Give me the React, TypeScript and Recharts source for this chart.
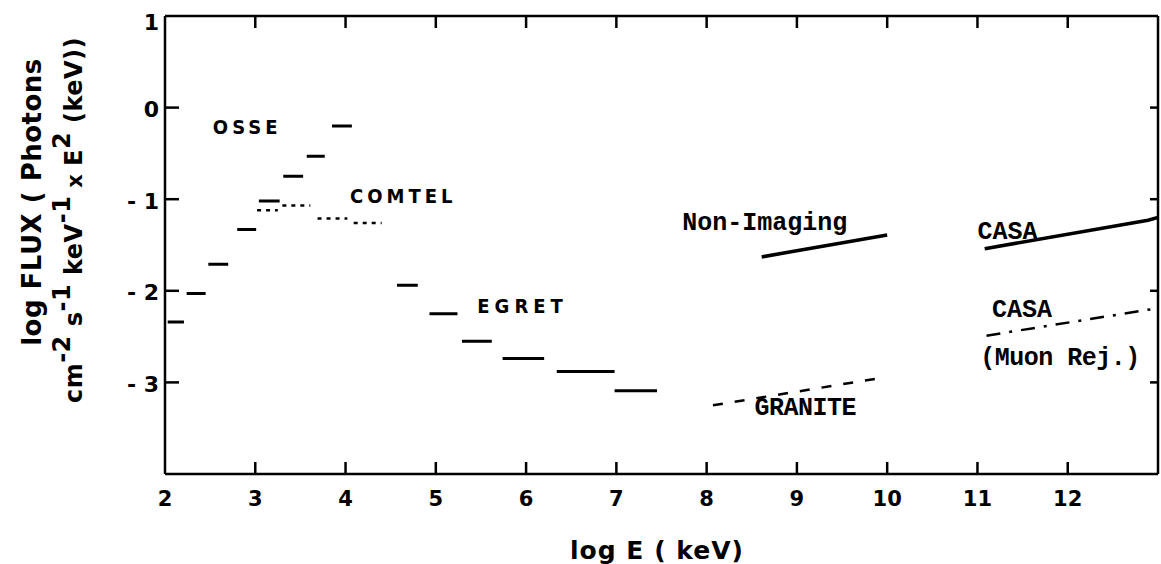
import React from "react";
import { ComposedChart, Line, XAxis, YAxis, ReferenceDot } from "recharts";

const W = 1161;
const H = 564;
const PLOT_LEFT = 165;
const PLOT_RIGHT = 1158;
const PLOT_TOP = 16;
const PLOT_BOTTOM = 474;

const X_TICKS = [2, 3, 4, 5, 6, 7, 8, 9, 10, 11, 12];
const TOP_TICKS = [3, 4, 5, 6, 7, 8, 9, 10, 11, 12];
const Y_TICKS = [1, 0, -1, -2, -3];
const RIGHT_TICKS = [0, -1, -2, -3];

// [start log E, end log E, log flux]
const OSSE_BINS: [number, number, number][] = [
  [2.03, 2.21, -2.34],
  [2.24, 2.45, -2.03],
  [2.48, 2.7, -1.71],
  [2.8, 3.01, -1.33],
  [3.04, 3.27, -1.02],
  [3.31, 3.53, -0.75],
  [3.57, 3.77, -0.53],
  [3.85, 4.07, -0.2],
];

const COMTEL_BINS: [number, number, number][] = [
  [3.02, 3.25, -1.12],
  [3.3, 3.61, -1.07],
  [3.69, 4.02, -1.21],
  [4.09, 4.4, -1.26],
];

const EGRET_BINS: [number, number, number][] = [
  [4.57, 4.8, -1.94],
  [4.93, 5.24, -2.25],
  [5.29, 5.62, -2.55],
  [5.74, 6.2, -2.74],
  [6.34, 6.98, -2.88],
  [6.98, 7.45, -3.09],
];

// [log E, log flux]
const NON_IMAGING: [number, number][] = [
  [8.61, -1.63],
  [10.0, -1.39],
];
const CASA: [number, number][] = [
  [11.08, -1.54],
  [12.89, -1.23],
  [13.0, -1.2],
];
const CASA_MUON: [number, number][] = [
  [11.1, -2.49],
  [12.87, -2.21],
  [13.0, -2.19],
];
const GRANITE: [number, number][] = [
  [8.07, -3.25],
  [9.94, -2.95],
];

const MONO = "'Liberation Mono', 'DejaVu Sans Mono', monospace";
const SANS = "'DejaVu Sans', 'Noto Sans', sans-serif";
const CONDENSED = "'DejaVu Sans Condensed', 'DejaVu Sans', sans-serif";

const ANNOTATIONS = [
  { text: "OSSE", x: 2.53, y: -0.21, font: CONDENSED, size: 20, spacing: 4 },
  { text: "COMTEL", x: 4.05, y: -0.97, font: CONDENSED, size: 20, spacing: 4 },
  { text: "EGRET", x: 5.46, y: -2.17, font: CONDENSED, size: 20, spacing: 5 },
  { text: "Non-Imaging", x: 7.73, y: -1.27, font: MONO, size: 25, spacing: 0 },
  { text: "CASA", x: 11.0, y: -1.36, font: MONO, size: 25, spacing: 0 },
  { text: "CASA", x: 11.16, y: -2.21, font: MONO, size: 25, spacing: 0 },
  { text: "(Muon Rej.)", x: 11.03, y: -2.74, font: MONO, size: 25, spacing: -0.5 },
  { text: "GRANITE", x: 8.53, y: -3.29, font: MONO, size: 25, spacing: -0.5 },
];

function binsToSegments(bins: [number, number, number][]) {
  const out: { x: number; y: number | null }[] = [];
  bins.forEach(([x0, x1, f], i) => {
    if (i > 0) out.push({ x: (bins[i - 1][1] + x0) / 2, y: null });
    out.push({ x: x0, y: f }, { x: x1, y: f });
  });
  return out;
}

const pairs = (p: [number, number][]) => p.map(([x, y]) => ({ x, y }));

const BottomTick = ({ x, payload }: any) => (
  <g>
    {payload.value !== 2 && (
      <line x1={x} x2={x} y1={PLOT_BOTTOM} y2={PLOT_BOTTOM - 12} stroke="#000" strokeWidth={2.5} />
    )}
    <text
      x={x}
      y={PLOT_BOTTOM + 25}
      textAnchor="middle"
      dominantBaseline="central"
      fontFamily={SANS}
      fontWeight="bold"
      fontSize={21}
      fill="#000"
    >
      {payload.value}
    </text>
  </g>
);

const TopTick = ({ x }: any) => (
  <line x1={x} x2={x} y1={PLOT_TOP} y2={PLOT_TOP + 12} stroke="#000" strokeWidth={2.5} />
);

const LeftTick = ({ y, payload }: any) => (
  <g>
    {payload.value !== 1 && (
      <line x1={PLOT_LEFT} x2={PLOT_LEFT + 14} y1={y} y2={y} stroke="#000" strokeWidth={2.5} />
    )}
    <text
      x={PLOT_LEFT - 6}
      y={y + (payload.value === 1 ? 6 : 2)}
      textAnchor="end"
      dominantBaseline="central"
      fontFamily={SANS}
      fontWeight="bold"
      fontSize={22}
      fill="#000"
    >
      {payload.value < 0 ? `- ${Math.abs(payload.value)}` : payload.value}
    </text>
  </g>
);

const RightTick = ({ y }: any) => (
  <line x1={PLOT_RIGHT} x2={PLOT_RIGHT - 8} y1={y} y2={y} stroke="#000" strokeWidth={2.5} />
);

const axisLine = { stroke: "#000", strokeWidth: 2.5 };

const SUP = { fontSize: 24, verticalAlign: "0.5em", lineHeight: 0 } as const;

export default function App() {
  return (
    <div style={{ position: "absolute", left: 0, top: 0, width: W, height: H, background: "#fff" }}>
      <ComposedChart width={W} height={H} margin={{ top: 0, right: 0, bottom: 0, left: 0 }}>
        <XAxis
          dataKey="x"
          type="number"
          domain={[2, 13]}
          ticks={X_TICKS}
          allowDataOverflow
          height={H - PLOT_BOTTOM}
          axisLine={axisLine}
          tickLine={false}
          tick={<BottomTick />}
          interval={0}
        />
        <XAxis
          xAxisId="top"
          orientation="top"
          dataKey="x"
          type="number"
          domain={[2, 13]}
          ticks={TOP_TICKS}
          allowDataOverflow
          height={PLOT_TOP}
          axisLine={axisLine}
          tickLine={false}
          tick={<TopTick />}
          interval={0}
        />
        <YAxis
          type="number"
          domain={[-4, 1]}
          ticks={Y_TICKS}
          allowDataOverflow
          width={PLOT_LEFT}
          axisLine={axisLine}
          tickLine={false}
          tick={<LeftTick />}
          interval={0}
        />
        <YAxis
          yAxisId="right"
          orientation="right"
          type="number"
          domain={[-4, 1]}
          ticks={RIGHT_TICKS}
          allowDataOverflow
          width={W - PLOT_RIGHT}
          axisLine={axisLine}
          tickLine={false}
          tick={<RightTick />}
          interval={0}
        />

        <Line
          data={binsToSegments(OSSE_BINS)}
          dataKey="y"
          name="OSSE"
          stroke="#000"
          strokeWidth={3}
          dot={false}
          isAnimationActive={false}
        />
        <Line
          data={binsToSegments(COMTEL_BINS)}
          dataKey="y"
          name="COMTEL"
          stroke="#000"
          strokeWidth={2.5}
          strokeDasharray="4 5"
          dot={false}
          isAnimationActive={false}
        />
        <Line
          data={binsToSegments(EGRET_BINS)}
          dataKey="y"
          name="EGRET"
          stroke="#000"
          strokeWidth={3}
          dot={false}
          isAnimationActive={false}
        />
        <Line
          data={pairs(NON_IMAGING)}
          dataKey="y"
          name="Non-Imaging"
          stroke="#000"
          strokeWidth={3.5}
          dot={false}
          isAnimationActive={false}
        />
        <Line
          data={pairs(CASA)}
          dataKey="y"
          name="CASA"
          stroke="#000"
          strokeWidth={3.5}
          dot={false}
          isAnimationActive={false}
        />
        <Line
          data={pairs(CASA_MUON)}
          dataKey="y"
          name="CASA (Muon Rej.)"
          stroke="#000"
          strokeWidth={2.5}
          strokeDasharray="14 9 3 9"
          dot={false}
          isAnimationActive={false}
        />
        <Line
          data={pairs(GRANITE)}
          dataKey="y"
          name="GRANITE"
          stroke="#000"
          strokeWidth={2.5}
          strokeDasharray="10 12"
          dot={false}
          isAnimationActive={false}
        />

        {ANNOTATIONS.map((a, i) => (
          <ReferenceDot
            key={i}
            x={a.x}
            y={a.y}
            r={0}
            ifOverflow="visible"
            shape={(p: any) => (
              <text
                x={p.cx}
                y={p.cy}
                dominantBaseline="central"
                fontFamily={a.font}
                fontWeight="bold"
                fontSize={a.size}
                letterSpacing={a.spacing}
                fill="#000"
              >
                {a.text}
              </text>
            )}
          />
        ))}
      </ComposedChart>

      <div
        style={{
          position: "absolute",
          left: 32,
          top: 202,
          transform: "translate(-50%, -50%) rotate(-90deg)",
          whiteSpace: "nowrap",
          fontFamily: SANS,
          fontWeight: "bold",
          fontSize: 26,
          letterSpacing: 0.5,
        }}
      >
        log FLUX ( Photons
      </div>
      <div
        style={{
          position: "absolute",
          left: 74,
          top: 220,
          transform: "translate(-50%, -50%) rotate(-90deg)",
          whiteSpace: "nowrap",
          fontFamily: SANS,
          fontWeight: "bold",
          fontSize: 24,
          letterSpacing: 0.5,
        }}
      >
        cm<span style={SUP}>-2</span> s<span style={SUP}>-1</span> keV<span style={SUP}>-1</span>
        <span style={{ fontSize: 21 }}> x </span>E<span style={SUP}>2</span> (keV))
      </div>
      <div
        style={{
          position: "absolute",
          left: 657,
          top: 550,
          transform: "translate(-50%, -50%)",
          whiteSpace: "nowrap",
          fontFamily: SANS,
          fontWeight: "bold",
          fontSize: 25,
          letterSpacing: 1,
        }}
      >
        log E ( keV)
      </div>
    </div>
  );
}
